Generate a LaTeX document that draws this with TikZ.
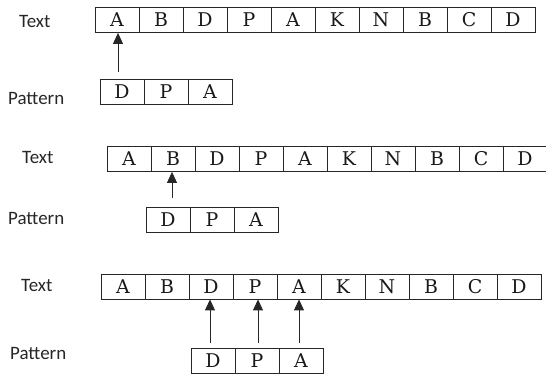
\documentclass[tikz,border=0pt]{standalone}
\usepackage{fontspec}
\setmainfont{Liberation Serif}
\newfontfamily\labelfont{Carlito}
\newfontfamily\cellfont{DejaVu Serif}
\usetikzlibrary{arrows.meta}
\tikzset{
  cell/.style={draw=black!85, line width=0.8bp, minimum width=44bp, minimum height=25bp,
    inner sep=0pt, text=black!90, font=\cellfont\fontsize{19}{19}\selectfont},
  rowlabel/.style={anchor=west, inner sep=0pt, text=black!85, font=\labelfont\fontsize{19}{19}\selectfont},
  pointer/.style={line width=0.9bp, draw=black!85, -{Triangle[length=11bp,width=10bp]}}
}
\begin{document}
\begin{tikzpicture}[x=1bp,y=-1bp]
\clip (0,0) rectangle (546,374);
\useasboundingbox (0,0) rectangle (546,374);
% text strings: left edge and vertical centre of each row
\foreach \r/\x/\y in {1/95/20, 2/107/159, 3/101/286.5}{
  \foreach \ch [count=\i] in {A,B,D,P,A,K,N,B,C,D}{
    \node[cell] (t\r c\i) at ({\x+22+44*(\i-1)},\y) {\ch};
  }
}
% patterns, shifted under the text
\foreach \r/\x/\y in {1/100/91.5, 2/146/219.5, 3/191/360.5}{
  \foreach \ch [count=\i] in {D,P,A}{
    \node[cell] (p\r c\i) at ({\x+22+44*(\i-1)},\y) {\ch};
  }
}
% row labels
\node[rowlabel] (lt1) at (19,21) {Text};
\node[rowlabel] (lp1) at (8,98) {Pattern};
\node[rowlabel] (lt2) at (22,157) {Text};
\node[rowlabel] (lp2) at (8,218) {Pattern};
\node[rowlabel] (lt3) at (21,285) {Text};
\node[rowlabel] (lp3) at (10,353) {Pattern};
% comparison pointers
\coordinate (a1) at (118,72);
\coordinate (a2) at (172,198);
\coordinate (a3) at (210,343);
\coordinate (a4) at (258,343);
\coordinate (a5) at (299,343);
\draw[pointer] (a1) -- (a1 |- t1c1.south);
\draw[pointer] (a2) -- (a2 |- t2c2.south);
\draw[pointer] (a3) -- (a3 |- t3c3.south);
\draw[pointer] (a4) -- (a4 |- t3c4.south);
\draw[pointer] (a5) -- (a5 |- t3c5.south);
\end{tikzpicture}
\end{document}
